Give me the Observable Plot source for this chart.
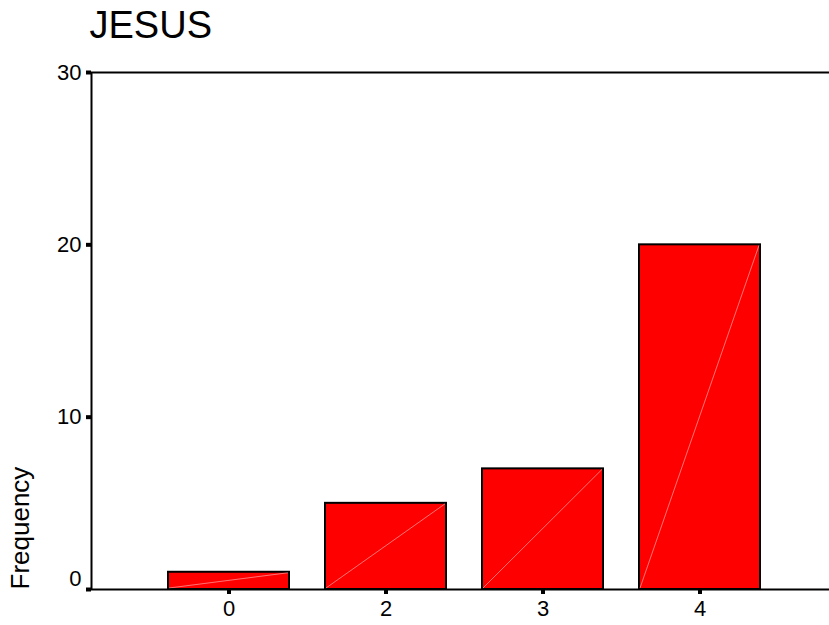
<!DOCTYPE html>
<html><head><meta charset="utf-8">
<script src="https://cdn.jsdelivr.net/npm/d3@7"></script>
<script src="https://cdn.jsdelivr.net/npm/@observablehq/plot@0.6"></script>
<style>body{margin:0;background:#fff} svg{display:block}</style>
</head><body><div id="chart"></div>
<script>
const title = "JESUS";
const categories = ["0", "2", "3", "4"];
const frequencies = [1, 5, 7, 20];
const yTickValues = [10, 20, 30];
const yZeroTick = [0];
const yLabel = "Frequency";

const data = categories.map((c, i) => ({category: c, frequency: frequencies[i]}));
const font = "Arial, 'Liberation Sans', Helvetica, sans-serif";

const plot = Plot.plot({
  width: 829,
  height: 625,
  marginLeft: 91,
  marginRight: -8,
  marginTop: 72,
  marginBottom: 36,
  style: {fontFamily: font, fontSize: "22px", background: "#fff", color: "#000", overflow: "visible"},
  x: {domain: categories, paddingInner: 0.228, paddingOuter: 0.475, align: 0.5, label: null},
  y: {domain: [0, 30], label: null},
  marks: [
    Plot.barY(data, {x: "category", y: "frequency", fill: "#ff0000", stroke: "#000", strokeWidth: 2}),
    Plot.frame({stroke: "#000", strokeWidth: 2}),
    Plot.axisX({tickSize: 5, strokeWidth: 4, tickPadding: 6, fontSize: 22, label: null}),
    Plot.axisY({ticks: [...yZeroTick, ...yTickValues], tickSize: 5, strokeWidth: 4, tickFormat: () => "", label: null}),
    Plot.axisY(yTickValues, {tickSize: 0, tickPadding: 10, fontSize: 22, label: null}),
    Plot.axisY(yZeroTick, {tickSize: 0, tickPadding: 10, fontSize: 22, dy: -11, label: null}),
    Plot.text([yLabel], {frameAnchor: "bottom-left", rotate: -90, textAnchor: "start", lineAnchor: "top", dx: -81, fontSize: 26}),
    Plot.text([title], {frameAnchor: "top-left", textAnchor: "start", lineAnchor: "middle", dy: -47, dx: -2, fontSize: 38})
  ]
});

// faint diagonal highlight inside each bar (SPSS rendering look), derived from the drawn bars
d3.select(plot).selectAll('g[aria-label="bar"]').each(function () {
  const g = d3.select(this);
  g.selectAll("rect").nodes().forEach(r => {
    const x = +r.getAttribute("x"), y = +r.getAttribute("y");
    const w = +r.getAttribute("width"), h = +r.getAttribute("height");
    g.append("line")
      .attr("x1", x + 1).attr("y1", y + h - 1)
      .attr("x2", x + w - 1).attr("y2", y + 1)
      .attr("stroke", "rgba(255,255,255,0.45)")
      .attr("stroke-width", 1)
      .attr("fill", "none");
  });
});

document.getElementById("chart").appendChild(plot);
</script>
</body></html>
